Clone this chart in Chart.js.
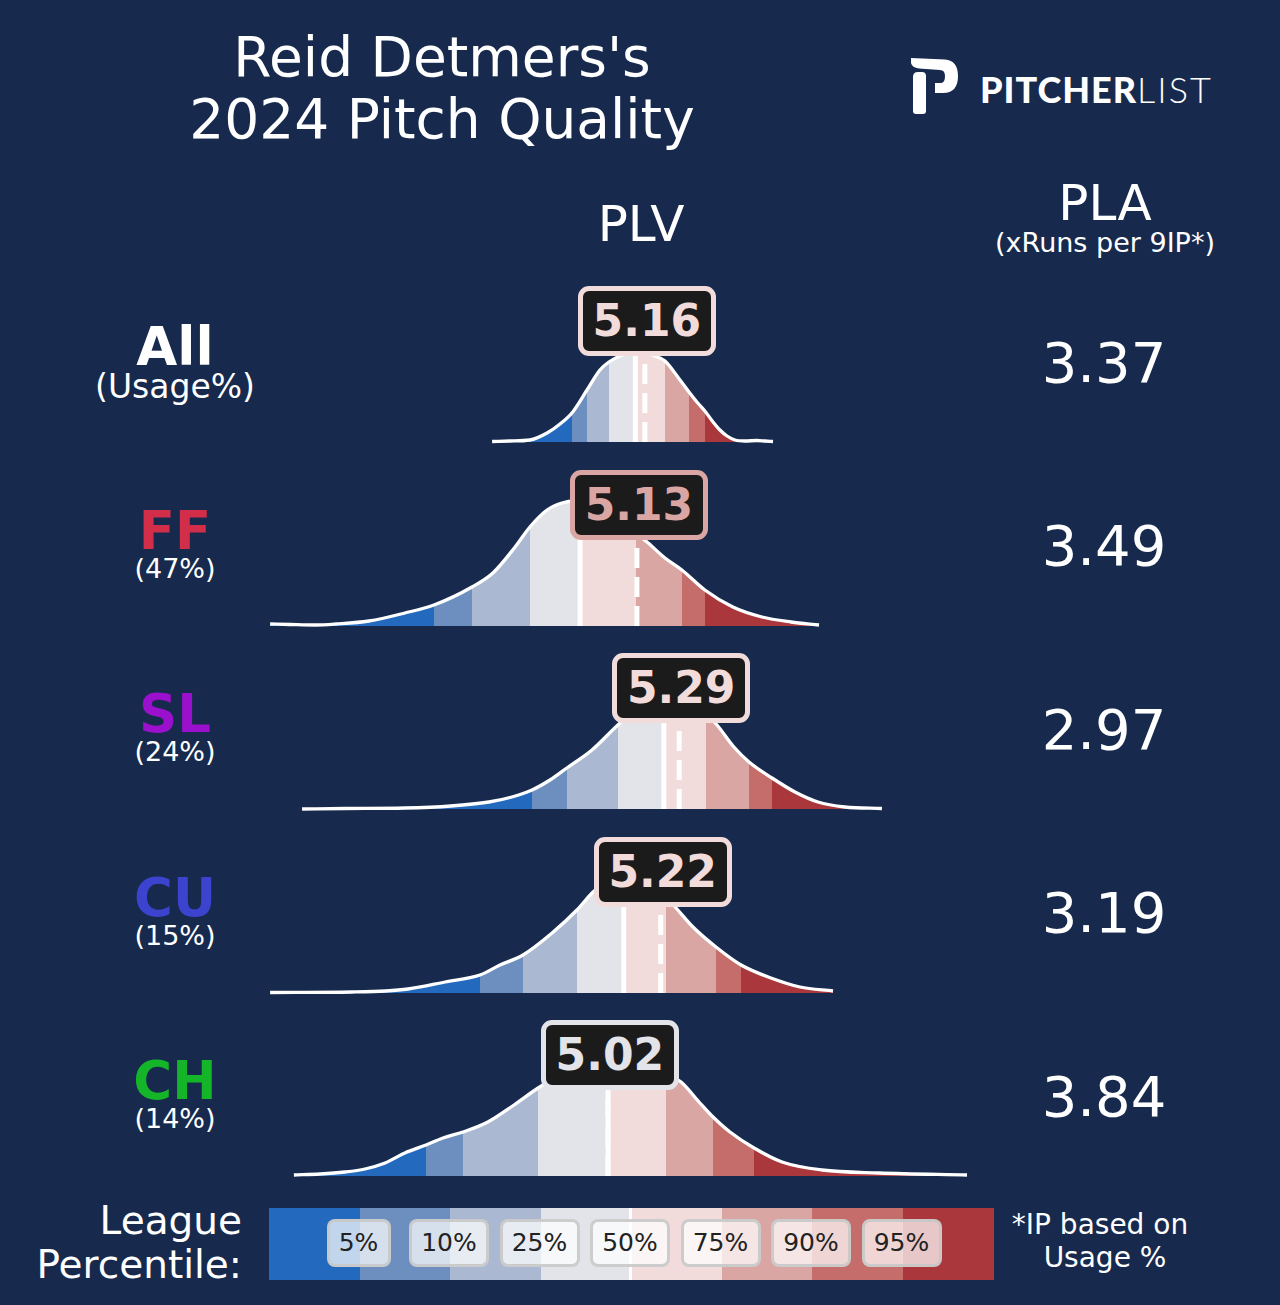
<!DOCTYPE html>
<html>
<head>
<meta charset="utf-8">
<script src="https://cdn.jsdelivr.net/npm/chart.js@4.4.1/dist/chart.umd.min.js"></script>
<style>
  html, body { margin: 0; padding: 0; }
  body { width: 1280px; height: 1305px; background: #172a4e; position: relative; overflow: hidden;
         font-family: "DejaVu Sans", sans-serif; color: #fff; }
  .t { position: absolute; line-height: 1; white-space: nowrap; }
  canvas.row { position: absolute; }
  .valbox { position: absolute; width: 128px; height: 60px; background: #1b1b1b; border: 5px solid #fff;
            border-radius: 11px; font-weight: bold; font-size: 44px; line-height: 60px; text-align: center; z-index: 5; }
  .band { position: absolute; top: 1208px; height: 72px; }
  .pbox { position: absolute; top: 1219px; height: 42px; border: 3px solid rgba(200,200,200,0.9); border-radius: 8px;
          background: rgba(255,255,255,0.72); color: #222; font-size: 25px; line-height: 42px; text-align: center; z-index: 5; }
</style>
</head>
<body>
<svg style="position:absolute;left:0;top:0" width="1280" height="140">
  <path fill="#fff"
        d="M911 58 L945 59.5 Q958 60.5 958 76 Q958 93 943 93 L935 93 L935 83 L941 83 Q945 83 945 76 Q945 70 940 70 L919 68.5 Q912 67.5 911 63 Z"/>
  <path fill="#fff"
        d="M913 77 Q913 72 918 72 L922 72 Q926 72 926 76 L926 111 Q926 114 923 114 L916 114 Q913 114 913 111 Z"/>
</svg>
<div id="root"></div>
<script>
// pitch rows
const pitchTypes = ['All', 'FF', 'SL', 'CU', 'CH'];
const pitchColors = ['#ffffff', '#d22d49', '#9a10cc', '#3b43cf', '#15b52a'];
const usageLabels = ['(Usage%)', '(47%)', '(24%)', '(15%)', '(14%)'];
const plvValues = [5.16, 5.13, 5.29, 5.22, 5.02];
const plaValues = ['3.37', '3.49', '2.97', '3.19', '3.84'];

// league percentile legend
const percentileLabels = ['5%', '10%', '25%', '50%', '75%', '90%', '95%'];
const bandColors = ['#2369bd', '#6d8fbf', '#aab9d1', '#e3e4ea', '#f2dcdb', '#daa6a3', '#c46d6a', '#a9373b'];

// league percentile cut points (PLV) per row: 5,10,25,50,75,90,95
const allCuts = [4.884, 4.941, 5.024, 5.124, 5.236, 5.327, 5.387];
const ffCuts  = [4.361, 4.506, 4.725, 4.915, 5.125, 5.299, 5.389];
const slCuts  = [4.733, 4.864, 5.060, 5.232, 5.391, 5.555, 5.642];
const cuCuts  = [4.537, 4.698, 4.905, 5.080, 5.241, 5.428, 5.524];
const chCuts  = [4.331, 4.473, 4.756, 5.021, 5.239, 5.417, 5.572];

// league PLV density curves (x = PLV, y = density)
const allX = [4.582, 4.650, 4.725, 4.790, 4.839, 4.884, 4.941, 4.990, 5.024, 5.066, 5.111, 5.160, 5.198, 5.236, 5.293, 5.327, 5.357, 5.387, 5.418, 5.444, 5.471, 5.501, 5.539, 5.584, 5.614, 5.645];
const allY = [0.005, 0.01, 0.02, 0.09, 0.18, 0.29, 0.52, 0.72, 0.80, 0.86, 0.89, 0.89, 0.86, 0.81, 0.62, 0.50, 0.40, 0.31, 0.20, 0.12, 0.06, 0.02, 0.01, 0.015, 0.01, 0.005];
const ffX = [3.742, 3.817, 3.912, 3.991, 4.116, 4.252, 4.362, 4.506, 4.585, 4.669, 4.725, 4.790, 4.846, 4.896, 4.952, 5.009, 5.066, 5.123, 5.168, 5.236, 5.300, 5.387, 5.493, 5.603, 5.713, 5.819];
const ffY = [0.02, 0.015, 0.01, 0.02, 0.05, 0.13, 0.21, 0.39, 0.53, 0.79, 0.99, 1.16, 1.23, 1.25, 1.22, 1.14, 1.04, 0.93, 0.84, 0.68, 0.56, 0.36, 0.19, 0.09, 0.04, 0.01];
const slX = [3.863, 4.025, 4.252, 4.426, 4.570, 4.657, 4.733, 4.801, 4.865, 4.960, 5.058, 5.111, 5.168, 5.225, 5.282, 5.338, 5.388, 5.433, 5.497, 5.554, 5.641, 5.728, 5.815, 5.917, 6.057];
const slY = [0.0, 0.005, 0.01, 0.03, 0.07, 0.12, 0.19, 0.29, 0.41, 0.59, 0.84, 0.96, 1.05, 1.10, 1.10, 1.05, 0.96, 0.84, 0.62, 0.47, 0.31, 0.17, 0.07, 0.02, 0.005];
const cuX = [3.742, 4.052, 4.180, 4.264, 4.404, 4.536, 4.612, 4.699, 4.809, 4.903, 4.964, 5.013, 5.066, 5.123, 5.179, 5.229, 5.278, 5.342, 5.429, 5.524, 5.637, 5.747, 5.872];
const cuY = [0.005, 0.01, 0.02, 0.04, 0.11, 0.18, 0.28, 0.38, 0.60, 0.83, 1.01, 1.11, 1.17, 1.17, 1.10, 0.99, 0.85, 0.66, 0.46, 0.28, 0.15, 0.06, 0.02];
const chX = [3.832, 3.931, 4.025, 4.101, 4.177, 4.252, 4.332, 4.396, 4.472, 4.566, 4.665, 4.756, 4.820, 4.896, 4.971, 5.047, 5.123, 5.198, 5.255, 5.297, 5.365, 5.418, 5.482, 5.573, 5.679, 5.830, 6.046, 6.379];
const chY = [0.01, 0.02, 0.04, 0.07, 0.13, 0.23, 0.31, 0.38, 0.44, 0.54, 0.71, 0.88, 0.98, 1.05, 1.10, 1.11, 1.10, 1.05, 1.00, 0.94, 0.74, 0.59, 0.44, 0.28, 0.14, 0.06, 0.03, 0.01];

const rowCuts = [allCuts, ffCuts, slCuts, cuCuts, chCuts];
const rowX = [allX, ffX, slX, cuX, chX];
const rowY = [allY, ffY, slY, cuY, chY];

const root = document.getElementById('root');

function text(str, x, base, size, extra) {
  const d = document.createElement('div');
  d.className = 't';
  d.textContent = str;
  d.style.fontSize = size + 'px';
  d.style.top = (base - 0.846 * size) + 'px';
  d.style.left = x + 'px';
  d.style.transform = 'translateX(-50%)';
  Object.assign(d.style, extra || {});
  root.appendChild(d);
  return d;
}

// headings
text("Reid Detmers's", 442, 77, 55);
text('2024 Pitch Quality', 442, 139, 55);
text('PLV', 641, 241, 50);
text('PLA', 1105, 220, 50);
text('(xRuns per 9IP*)', 1105, 252, 27);
const logo = text('', 980, 101, 36, { transform: 'none', fontFamily: 'Lato, sans-serif' });
logo.innerHTML = '<span style="font-weight:900;letter-spacing:1px">PITCHER</span><span style="font-weight:300;letter-spacing:2px">LIST</span>';

function colorFor(v, cuts) {
  let i = 0;
  while (i < cuts.length && v >= cuts[i]) i++;
  return bandColors[i];
}

const X_MIN = 3.7, X_MAX = 6.5;
const CANVAS_LEFT = 259, CANVAS_W = 740, CANVAS_H = 180;

pitchTypes.forEach(function (pt, i) {
  const baseline = 442 + i * 183.5;
  const cuts = rowCuts[i];

  text(pt, 175, baseline - 77, 53, { fontWeight: 'bold', color: pitchColors[i] });
  text(usageLabels[i], 175, baseline - (i === 0 ? 44 : 48), i === 0 ? 33 : 27);
  text(plaValues[i], 1104, baseline - 60, 56);

  const canvas = document.createElement('canvas');
  canvas.className = 'row';
  canvas.width = CANVAS_W;
  canvas.height = CANVAS_H;
  canvas.style.left = CANVAS_LEFT + 'px';
  canvas.style.top = (baseline - 170) + 'px';
  root.appendChild(canvas);

  const markers = {
    id: 'markers' + i,
    afterDatasetsDraw: function (chart) {
      const meta = chart.getDatasetMeta(0);
      const pts = meta.data;
      const xs = chart.scales.x;
      const base = chart.scales.y.getPixelForValue(0);
      const ctx = chart.ctx;
      ctx.save();
      ctx.beginPath();
      meta.dataset.path(ctx);
      ctx.lineTo(pts[pts.length - 1].x, base);
      ctx.lineTo(pts[0].x, base);
      ctx.closePath();
      ctx.clip();
      ctx.strokeStyle = '#ffffff';
      ctx.lineWidth = 5;
      const mx = xs.getPixelForValue(cuts[3]);
      ctx.beginPath();
      ctx.moveTo(mx, base);
      ctx.lineTo(mx, chart.chartArea.top);
      ctx.stroke();
      const px = xs.getPixelForValue(plvValues[i]);
      ctx.setLineDash([20, 9]);
      ctx.beginPath();
      ctx.moveTo(px, base);
      ctx.lineTo(px, chart.chartArea.top);
      ctx.stroke();
      ctx.restore();
    }
  };

  const chart = new Chart(canvas.getContext('2d'), {
    type: 'line',
    data: {
      labels: rowX[i],
      datasets: [{
        data: rowX[i].map(function (x, k) { return { x: x, y: rowY[i][k] }; }),
        borderColor: '#ffffff',
        borderWidth: 3.3,
        pointRadius: 0,
        cubicInterpolationMode: 'monotone',
        fill: 'origin',
        backgroundColor: function (c) {
          const ch = c.chart;
          const area = ch.chartArea;
          if (!area || !ch.scales.x) return bandColors[3];
          const g = ch.ctx.createLinearGradient(area.left, 0, area.right, 0);
          let prev = 0;
          cuts.forEach(function (cut, k) {
            let p = (ch.scales.x.getPixelForValue(cut) - area.left) / (area.right - area.left);
            p = Math.max(0, Math.min(1, p));
            g.addColorStop(prev, bandColors[k]);
            g.addColorStop(p, bandColors[k]);
            prev = p;
          });
          g.addColorStop(prev, bandColors[7]);
          g.addColorStop(1, bandColors[7]);
          return g;
        }
      }]
    },
    options: {
      responsive: false,
      animation: false,
      events: [],
      layout: { padding: 0 },
      scales: {
        x: { type: 'linear', min: X_MIN, max: X_MAX, display: false },
        y: { min: -0.1, max: 1.7, display: false }
      },
      plugins: { legend: { display: false }, tooltip: { enabled: false } }
    },
    plugins: [markers]
  });

  // value label box centred on the pitcher's PLV
  const px = CANVAS_LEFT + chart.scales.x.getPixelForValue(plvValues[i]) + 2;
  const col = colorFor(plvValues[i], cuts);
  const box = document.createElement('div');
  box.className = 'valbox';
  box.textContent = plvValues[i].toFixed(2);
  box.style.left = (px - 69) + 'px';
  box.style.top = (baseline - 121 - 35) + 'px';
  box.style.borderColor = col;
  box.style.color = col;
  root.appendChild(box);
});

// legend colour bar
const barLeft = 269, bandW = 90.5;
bandColors.forEach(function (c, k) {
  const b = document.createElement('div');
  b.className = 'band';
  b.style.left = (barLeft + k * bandW) + 'px';
  b.style.width = (bandW + 0.5) + 'px';
  b.style.background = c;
  root.appendChild(b);
});
const mid = document.createElement('div');
mid.className = 'band';
mid.style.left = (barLeft + 4 * bandW - 2.5) + 'px';
mid.style.width = '3px';
mid.style.background = '#fff';
root.appendChild(mid);
percentileLabels.forEach(function (lab, k) {
  const cx = barLeft + (k + 1) * bandW - 1;
  const w = lab.length < 3 ? 58 : 74;
  const p = document.createElement('div');
  p.className = 'pbox';
  p.textContent = lab;
  p.style.left = (cx - w / 2 - 3) + 'px';
  p.style.width = w + 'px';
  root.appendChild(p);
});

text('League', 242, 1234, 39, { transform: 'translateX(-100%)' });
text('Percentile:', 242, 1278, 39, { transform: 'translateX(-100%)' });
text('*IP based on', 1100, 1235, 28);
text('Usage %', 1105, 1268, 28);
</script>
</body>
</html>
